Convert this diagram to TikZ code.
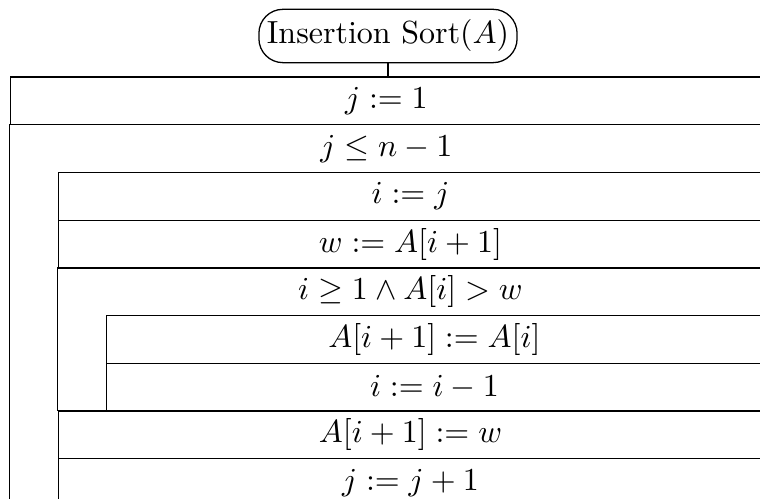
\documentclass[tikz,border=0pt]{standalone}
\usepackage{amsmath, amssymb}
\usepackage{tikz}
\usetikzlibrary{positioning}

\begin{document}
\begin{tikzpicture}[
  x=0.3125pt, y=-0.3125pt,
  startnode/.style={draw, rounded corners=7.5pt, inner xsep=2.5pt,
                    minimum height=15pt},
  stmt/.style={draw, anchor=north west, inner sep=0pt,
               minimum height=14.906pt},
  header/.style={stmt, draw=none},
  lvlone/.style={minimum width=235.16pt},
  lvltwo/.style={minimum width=220.09pt},
  lvlthree/.style={minimum width=205.16pt},
  frame/.style={draw}
]
\useasboundingbox (0,0) rectangle (760,499);
\clip (0,0) rectangle (760,499);

% program name
\node[startnode] (start) at (388,36) {Insertion Sort($A$)};

% j := 1
\node[stmt, lvlone] (init) at (9.5,76.5) {$j := 1$};
\draw (start) -- (start |- init.north);

% outer loop
\draw[frame] (9.5,124.2) rectangle (762,540);
\node[header, lvlone] (outerloop) at (9.5,124.2) {$j \leq n-1$};
\node[stmt, lvltwo] (assigni) at (57.7,172) {$i := j$};
\node[stmt, lvltwo] (assignw) at (57.7,219.7) {$w := A[i+1]$};

% inner loop
\draw[frame] (57.7,267.4) rectangle (762,410.5);
\node[header, lvltwo] (innerloop) at (57.7,267.4) {$i \geq 1 \land A[i] > w$};
\node[stmt, lvlthree] (shift) at (105.5,315) {$A[i+1] := A[i]$};
\node[stmt, lvlthree] (decr) at (105.5,362.8) {$i := i-1$};

% rest of outer loop body
\node[stmt, lvltwo] (insert) at (57.7,410.5) {$A[i+1] := w$};
\node[stmt, lvltwo] (incr) at (57.7,458.2) {$j := j+1$};

\end{tikzpicture}
\end{document}
